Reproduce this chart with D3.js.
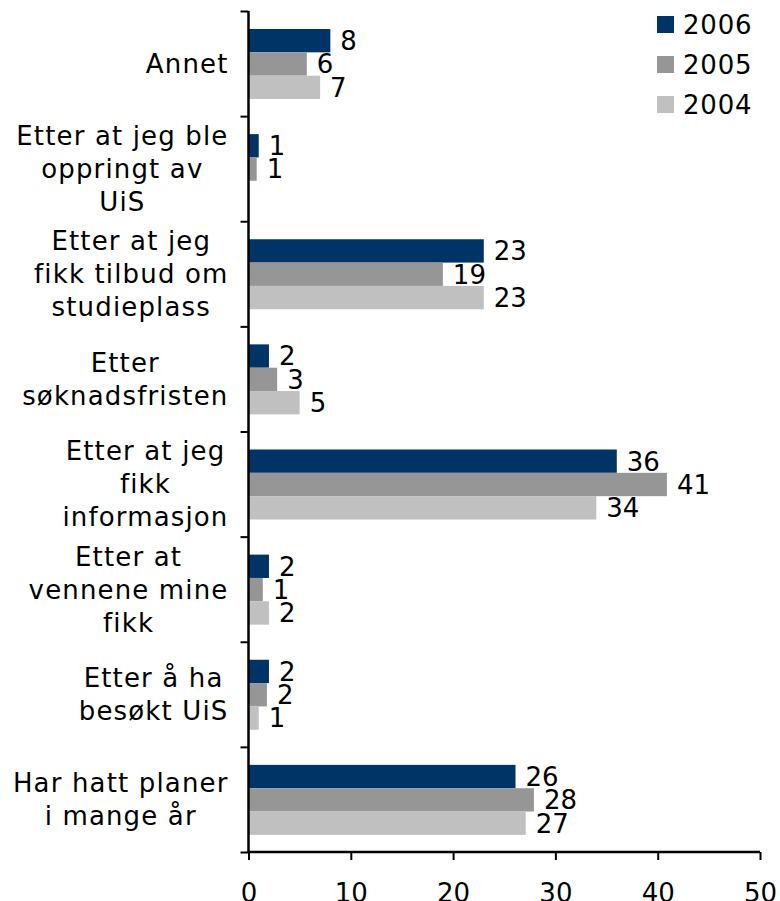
<!DOCTYPE html>
<html>
<head>
<meta charset="utf-8">
<script src="https://cdn.jsdelivr.net/npm/d3@7"></script>
<style>
  body { margin: 0; background: #fff; }
  text { font-family: "DejaVu Sans", Verdana, sans-serif; fill: #000; }
</style>
</head>
<body>
<div id="chart"></div>
<script>
// width and height
var chart_width = 780;
var chart_height = 901;

// categories, top to bottom (each label split into its lines)
var categories = [
    ["Annet"],
    ["Etter at jeg ble", "oppringt av", "UiS"],
    ["Etter at jeg", "fikk tilbud om", "studieplass"],
    ["Etter", "søknadsfristen"],
    ["Etter at jeg", "fikk", "informasjon"],
    ["Etter at", "vennene mine", "fikk"],
    ["Etter å ha", "besøkt UiS"],
    ["Har hatt planer", "i mange år"]
];

var series = ["2006", "2005", "2004"];

var values2006 = [8, 1, 23, 2, 36, 2, 2, 26.1];
var values2005 = [5.7, 0.8, 19, 2.8, 40.9, 1.4, 1.8, 27.9];
var values2004 = [7, null, 23, 5, 34, 2, 1, 27.1];

var x_ticks = [0, 10, 20, 30, 40, 50];

var colors = ["#003366", "#969696", "#c0c0c0"];

var svg = d3.select("#chart")
    .append("svg")
    .attr("width", chart_width)
    .attr("height", chart_height);

var x = d3.scaleLinear().domain([0, 50]).range([248.5, 760]);

var cat_idx = d3.range(categories.length);
var y = d3.scaleBand().domain(cat_idx).range([11, 852]);
var y_inner = d3.scaleBand().domain(series).range([18, 88]);

var color = d3.scaleOrdinal().domain(series).range(colors);

var all_values = [values2006, values2005, values2004];

var rows = [];
cat_idx.forEach(function(i) {
    series.forEach(function(s, j) {
        rows.push({cat: i, series: s, value: all_values[j][i]});
    });
});
var shown = rows.filter(function(d) { return d.value != null; });

// bars
svg.append("g")
    .selectAll("rect")
    .data(shown)
    .enter()
    .append("rect")
    .attr("x", x(0))
    .attr("y", function(d) { return y(d.cat) + y_inner(d.series); })
    .attr("width", function(d) { return x(d.value) - x(0); })
    .attr("height", y_inner.bandwidth())
    .attr("fill", function(d) { return color(d.series); });

// value labels
svg.append("g")
    .selectAll("text")
    .data(shown)
    .enter()
    .append("text")
    .attr("x", function(d) { return x(d.value) + 10; })
    .attr("y", function(d) { return y(d.cat) + y_inner(d.series) + y_inner.bandwidth() / 2; })
    .attr("dy", "0.36em")
    .style("font-size", "26px")
    .text(function(d) { return d3.format(".0f")(d.value); });

// y axis with ticks between categories
var y_bounds = d3.scaleLinear().domain([0, categories.length]).range([11, 852]);
var y_axis = svg.append("g")
    .attr("transform", "translate(" + x(0) + ",0)")
    .call(d3.axisLeft(y_bounds).tickValues(d3.range(categories.length + 1)).tickSize(8).tickFormat(""));
y_axis.select(".domain").attr("stroke", "#000").attr("stroke-width", 2.5)
    .attr("d", "M0," + y_bounds(0) + "V" + y_bounds(categories.length));
y_axis.selectAll(".tick line").attr("stroke", "#000").attr("stroke-width", 2);

// x axis
var x_axis = svg.append("g")
    .attr("transform", "translate(0," + 852 + ")")
    .call(d3.axisBottom(x).tickValues(x_ticks).tickSize(8));
x_axis.select(".domain").attr("stroke", "#000").attr("stroke-width", 2.5)
    .attr("d", "M" + x(0) + ",0H" + x(50));
x_axis.selectAll(".tick line").attr("stroke", "#000").attr("stroke-width", 2);
x_axis.selectAll(".tick text")
    .style("font-size", "26px")
    .attr("font-family", null)
    .attr("fill", "#000")
    .attr("dy", null)
    .attr("y", 50);

// category labels: block right-aligned, lines centred in block
var line_h = 33;
var label_g = svg.append("g");
categories.forEach(function(lines, i) {
    var g = label_g.append("g");
    var texts = g.selectAll("text")
        .data(lines)
        .enter()
        .append("text")
        .style("font-size", "26px")
        .style("letter-spacing", "1.15px")
        .attr("text-anchor", "middle")
        .text(function(d) { return d; });
    var max_w = d3.max(texts.nodes(), function(n) { return n.getComputedTextLength(); });
    var cx = x(0) - 20 - max_w / 2;
    var cy = y(i) + y.bandwidth() / 2;
    texts.attr("x", cx)
        .attr("y", function(d, k) { return cy + (k - (lines.length - 1) / 2) * line_h; })
        .attr("dy", "0.36em");
});

// legend
var legend = svg.append("g")
    .selectAll("g")
    .data(series)
    .enter()
    .append("g")
    .attr("transform", function(d, i) { return "translate(657," + (25 + i * 40) + ")"; });

legend.append("rect")
    .attr("x", 0)
    .attr("y", -9)
    .attr("width", 17)
    .attr("height", 17)
    .attr("fill", function(d) { return color(d); });

legend.append("text")
    .attr("x", 26)
    .attr("y", 0)
    .attr("dy", "0.36em")
    .style("font-size", "26px")
    .style("letter-spacing", "0.8px")
    .text(function(d) { return d; });
</script>
</body>
</html>
